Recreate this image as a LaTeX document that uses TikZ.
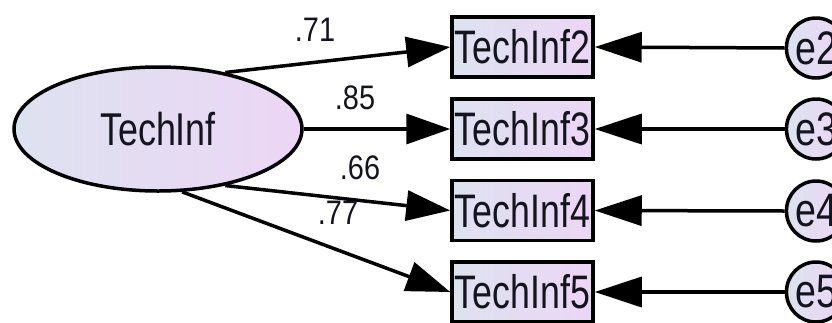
\documentclass[tikz,border=0pt]{standalone}
\usepackage{fontspec}
\setmainfont{Liberation Sans}
\usetikzlibrary{shapes.geometric,arrows.meta}
\definecolor{lblue}{RGB}{221,226,240}
\definecolor{lpink}{RGB}{236,214,245}
\definecolor{txt}{RGB}{20,20,30}
\newcommand{\sqz}[2][0.76]{\scalebox{#1}[1]{#2}}
\tikzset{
  latent/.style={ellipse, draw=black, line width=3.5pt, left color=lblue, right color=lpink,
    minimum width=288pt, minimum height=124pt, inner sep=0pt, text=txt,
    font=\fontsize{46}{46}\selectfont},
  obs/.style={rectangle, draw=black, line width=3.5pt, left color=lblue, right color=lpink,
    minimum width=141pt, minimum height=60pt, inner sep=0pt, text=txt,
    font=\fontsize{47}{47}\selectfont},
  err/.style={ellipse, draw=black, line width=3.5pt, left color=lblue, right color=lpink,
    minimum width=57pt, minimum height=60pt, inner sep=0pt, text=txt,
    font=\fontsize{47}{47}\selectfont},
  load/.style={line width=3.5pt, -{Triangle[length=44pt,width=30pt]}},
  resid/.style={line width=3.5pt, -{Triangle[length=47pt,width=30pt]}},
  coef/.style={text=txt, inner sep=0pt, font=\fontsize{34}{34}\selectfont},
}
\begin{document}
\begin{tikzpicture}[x=1pt,y=-1pt]
\clip (0,0) rectangle (832,322);
\fill[white] (0,0) rectangle (832,322);
\node[latent] (f) at (158,129) {\sqz[0.78]{TechInf}};
\node[obs] (b2) at (522.5,47) {\sqz{TechInf2}};
\node[obs] (b3) at (522.5,129) {\sqz{TechInf3}};
\node[obs] (b4) at (522.5,210.5) {\sqz{TechInf4}};
\node[obs] (b5) at (522.5,292) {\sqz{TechInf5}};
\node[err] (e2) at (816,48) {\sqz[0.8]{e2}};
\node[err] (e3) at (816,129) {\sqz[0.8]{e3}};
\node[err] (e4) at (816,211) {\sqz[0.8]{e4}};
\node[err] (e5) at (816,292) {\sqz[0.8]{e5}};
\draw[load] (f.40) -- (b2.west);
\draw[load] (f.east) -- (b3.west);
\draw[load] (f.-40) -- (b4.west);
\draw[load] (f.-69) -- (b5.west);
\draw[resid] (e2.west) -- (b2.east);
\draw[resid] (e3.west) -- (b3.east);
\draw[resid] (e4.west) -- (b4.east);
\draw[resid] (e5.west) -- (b5.east);
\node[coef] (l2) at (315,30) {\sqz[0.85]{.71}};
\node[coef] (l3) at (355,98) {\sqz[0.85]{.85}};
\node[coef] (l4) at (360,168) {\sqz[0.85]{.66}};
\node[coef] (l5) at (338,213) {\sqz[0.85]{.77}};
\end{tikzpicture}
\end{document}
